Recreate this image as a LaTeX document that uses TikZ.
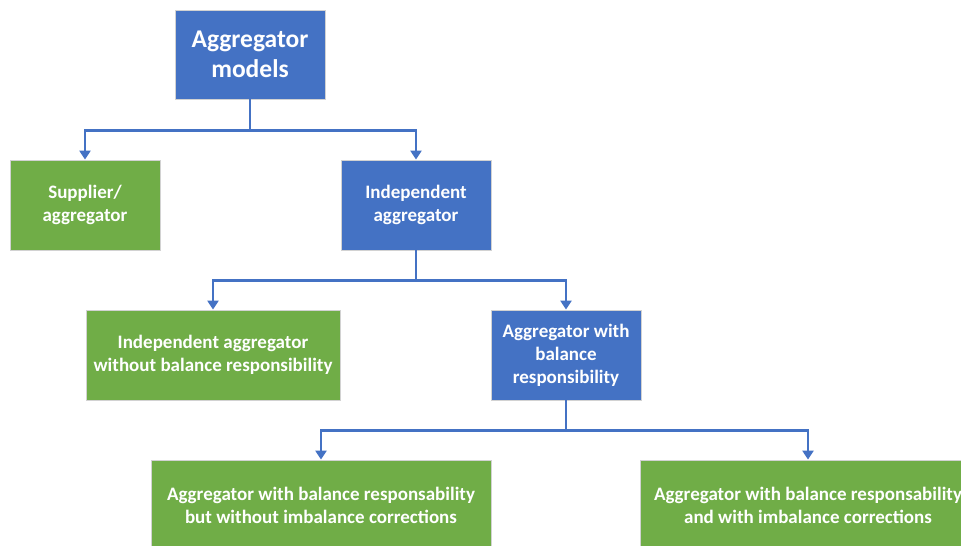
\documentclass[tikz,border=0pt]{standalone}
\usepackage{fontspec}
\setmainfont{Carlito}
\usepackage{tikz}
\usetikzlibrary{positioning}
\usetikzlibrary{arrows.meta}
\definecolor{aggblue}{HTML}{4472C4}
\definecolor{agggreen}{HTML}{70AD47}

\begin{document}
\begin{tikzpicture}[
  x=1pt, y=-1pt,
  font=\fontsize{19}{23}\selectfont\bfseries,
  >={Triangle[width=11pt,length=9pt]},
  bluebox/.style={rectangle, draw=gray!35, line width=0.8pt, fill=aggblue, text=white, align=center, minimum height=90pt, inner sep=2pt},
  greenbox/.style={rectangle, draw=gray!35, line width=0.8pt, fill=agggreen, text=white, align=center, minimum height=90pt, inner sep=2pt},
  link/.style={draw=aggblue, line width=2.8pt}
]
\useasboundingbox (0,0) rectangle (961,546);

% level 0
\node[bluebox, minimum width=150pt, minimum height=89pt, font=\fontsize{25.5}{30}\selectfont\bfseries] (root) at (250,54.5) {Aggregator\\models};

% level 1
\node[greenbox, minimum width=150pt] (supplier) at (85,205) {Supplier/\\aggregator};
\node[bluebox, minimum width=150pt] (indep) at (416,205) {Independent\\aggregator};

% level 2
\node[greenbox, minimum width=254pt] (nobrp) at (213,355) {Independent aggregator\\without balance responsibility};
\node[bluebox, minimum width=150pt] (brp) at (566,355) {Aggregator with\\balance\\responsibility};

% level 3
\node[greenbox, minimum width=340pt] (nocorr) at (321,505) {Aggregator with balance responsability\\but without imbalance corrections};
\node[greenbox, minimum width=336pt] (corr) at (808,505) {Aggregator with balance responsability\\and with imbalance corrections};

% connectors
\coordinate (j0) at ([yshift=-31pt]root.south);
\coordinate (j1) at ([yshift=-30pt]indep.south);
\coordinate (j2) at ([yshift=-30pt]brp.south);

\draw[link] (root.south) -- (j0);
\draw[link, ->] (j0) -| (supplier.north);
\draw[link, ->] (j0) -| (indep.north);

\draw[link] (indep.south) -- (j1);
\draw[link, ->] (j1) -| (nobrp.north);
\draw[link, ->] (j1) -| (brp.north);

\draw[link] (brp.south) -- (j2);
\draw[link, ->] (j2) -| (nocorr.north);
\draw[link, ->] (j2) -| (corr.north);

\end{tikzpicture}
\end{document}
